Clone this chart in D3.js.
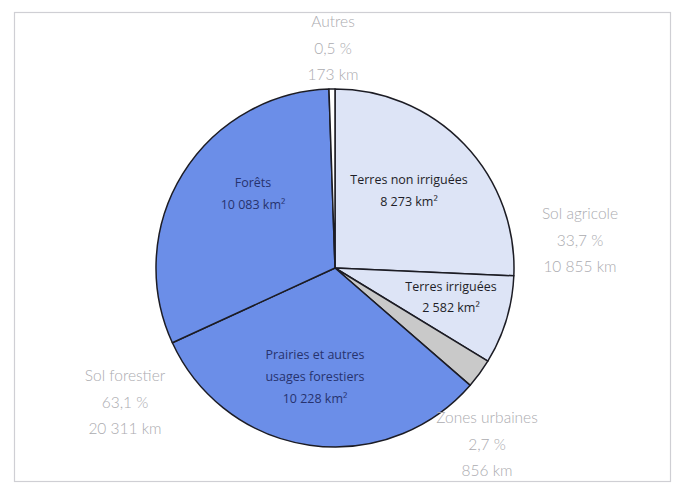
<!DOCTYPE html>
<html><head><meta charset="utf-8">
<script src="https://cdn.jsdelivr.net/npm/d3@7"></script>
<style>html,body{margin:0;padding:0;background:#fff;}svg{display:block;}</style>
</head><body>
<svg id="chart" width="675" height="483"></svg>
<script>
// ---- data ----
const categories = ["Terres non irriguées", "Terres irriguées", "Zones urbaines", "Prairies et autres usages forestiers", "Forêts", "Autres"];
const values = [8273, 2582, 856, 10228, 10083, 173];
const groups = ["Sol agricole", "Sol agricole", "Zones urbaines", "Sol forestier", "Sol forestier", "Autres"];
const groupNames = ["Autres", "Sol agricole", "Zones urbaines", "Sol forestier"];

const fmt = d3.formatLocale({decimal: ",", thousands: " ", grouping: [3], currency: ["", " €"]});
const fInt = fmt.format(",d");
const fPct = fmt.format(".1f");

const svg = d3.select("#chart");
const cx = 335, cy = 268, R = 179;

// frame
svg.append("rect").attr("x", 14.5).attr("y", 12.5).attr("width", 656).attr("height", 469)
  .attr("fill", "none").attr("stroke", "#cfcfd4").attr("stroke-width", 1.2);

const colorByCat = d3.scaleOrdinal().domain(categories)
  .range(["#dde4f6", "#dde4f6", "#c9c9c9", "#6b8ee8", "#6b8ee8", "#ffffff"]);

const pie = d3.pie().sort(null).startAngle(0).endAngle(2 * Math.PI);
const arcs = pie(values);
const arc = d3.arc().innerRadius(0).outerRadius(R);

const g = svg.append("g").attr("transform", `translate(${cx},${cy})`);
g.selectAll("path.slice").data(arcs).join("path")
  .attr("class", "slice")
  .attr("d", arc)
  .attr("fill", (d, i) => colorByCat(categories[i]))
  .attr("stroke", "#1c1c24").attr("stroke-width", 1.5).attr("stroke-linejoin", "round");

// inner labels
const innerLayout = {
  "Terres non irriguées": {x: 74, y: -84, dy: 22, color: "#1e1e28"},
  "Terres irriguées": {x: 116, y: 23, dy: 21, color: "#1e1e28"},
  "Prairies et autres usages forestiers": {x: -20, y: 91, dy: 22, color: "#27336e"},
  "Forêts": {x: -82, y: -81, dy: 22, color: "#27336e"}
};
const innerLines = {
  "Terres non irriguées": ["Terres non irriguées"],
  "Terres irriguées": ["Terres irriguées"],
  "Prairies et autres usages forestiers": ["Prairies et autres", "usages forestiers"],
  "Forêts": ["Forêts"]
};
categories.forEach((c, i) => {
  const L = innerLayout[c];
  if (!L) return;
  const lines = innerLines[c].concat([fInt(values[i]) + " km²"]);
  const t = g.append("text").attr("text-anchor", "middle")
    .attr("font-family", "'Open Sans', 'DejaVu Sans', sans-serif")
    .attr("font-size", 12.5).attr("fill", L.color);
  lines.forEach((s, k) => {
    t.append("tspan").attr("x", L.x).attr("y", L.y + k * L.dy).text(s);
  });
});

// outer group labels
const total = d3.sum(values);
const outerLayout = {
  "Autres": {x: 333, y: 27},
  "Sol agricole": {x: 580, y: 219},
  "Sol forestier": {x: 125, y: 381},
  "Zones urbaines": {x: 487, y: 423}
};
groupNames.forEach(gname => {
  const v = d3.sum(values.filter((_, i) => groups[i] === gname));
  const L = outerLayout[gname];
  const t = svg.append("text").attr("text-anchor", "middle")
    .attr("font-family", "Lato, 'Open Sans', sans-serif")
    .attr("font-weight", 300)
    .attr("font-size", 15.5).attr("fill", "#ababaf");
  [gname, fPct(v / total * 100) + " %", fInt(v) + " km"].forEach((s, k) => {
    t.append("tspan").attr("x", L.x).attr("y", L.y + k * 26.5).text(s);
  });
});
</script>
</body></html>
